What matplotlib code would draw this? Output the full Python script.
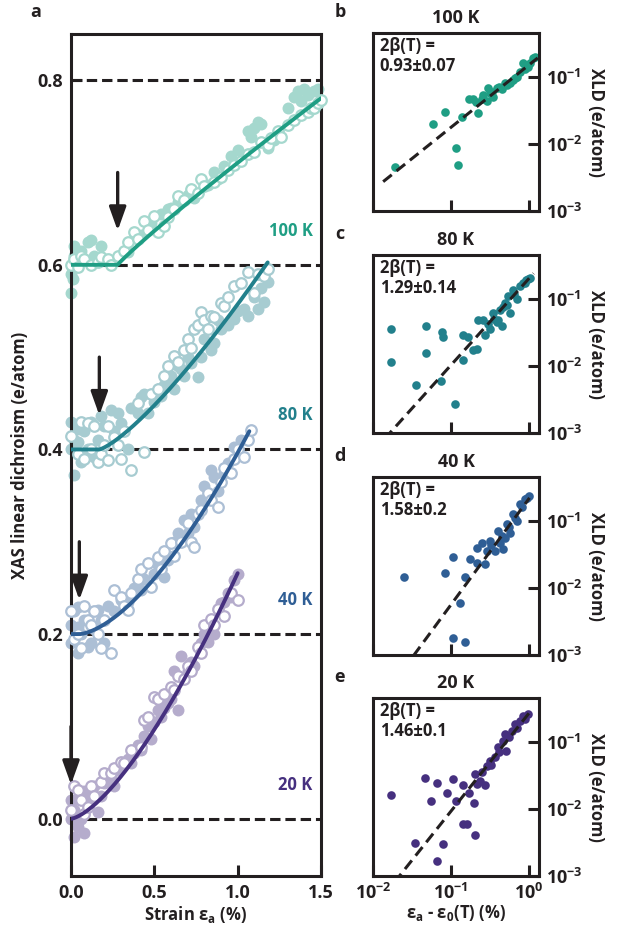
import numpy as np
import matplotlib
matplotlib.use("Agg")
import matplotlib.pyplot as plt
from matplotlib.colors import to_rgb
from matplotlib.ticker import NullLocator

plt.rcParams['font.family'] = ['Open Sans', 'DejaVu Sans']
plt.rcParams['font.weight'] = 'bold'
plt.rcParams['axes.labelweight'] = 'bold'
plt.rcParams['axes.titleweight'] = 'bold'
plt.rcParams['mathtext.fontset'] = 'custom'
plt.rcParams['mathtext.rm'] = 'Open Sans:bold'
plt.rcParams['mathtext.it'] = 'Open Sans:bold'
plt.rcParams['mathtext.bf'] = 'Open Sans:bold'
plt.rcParams['mathtext.default'] = 'regular'

INK = '#231f20'

# ---------------- data ----------------
temps = ['100 K', '80 K', '40 K', '20 K']
offsets = [0.6, 0.4, 0.2, 0.0]
eps0 = [0.28, 0.17, 0.05, 0.0]          # onset strain (arrows)
amp = [0.150, 0.200, 0.213, 0.266]      # fit prefactor
two_beta = [0.93, 1.29, 1.58, 1.46]     # fit exponent
two_beta_err = ['0.07', '0.14', '0.2', '0.1']
strain_max = [1.5, 1.18, 1.07, 1.0]
colors = ['#1f9e84', '#22808c', '#2f5e95', '#46307f']

# strain (%) and XLD (e/atom, offset) -- filled symbols / open symbols
s100_f = [0.0, 0.0, 0.01, 0.02, 0.02, 0.04, 0.06, 0.10, 0.12, 0.14, 0.18, 0.22, 0.34, 0.42, 0.48, 0.54, 0.58, 0.60,
          0.64, 0.70, 0.74, 0.82, 0.86, 0.88, 0.92, 0.96, 1.0, 1.06, 1.08, 1.10, 1.12, 1.14, 1.18, 1.22, 1.30, 1.34,
          1.36, 1.38, 1.40, 1.42, 1.46, 1.48]
x100_f = [0.570, 0.590, 0.585, 0.610, 0.620, 0.603, 0.615, 0.625, 0.627, 0.610, 0.620, 0.605, 0.614, 0.632, 0.645,
          0.655, 0.660, 0.662, 0.668, 0.676, 0.672, 0.686, 0.700, 0.693, 0.707, 0.718, 0.724, 0.745, 0.738, 0.748,
          0.755, 0.752, 0.726, 0.735, 0.770, 0.782, 0.788, 0.777, 0.790, 0.784, 0.788, 0.790]
s100_o = [0.0, 0.02, 0.04, 0.06, 0.08, 0.12, 0.16, 0.18, 0.22, 0.24, 0.28, 0.32, 0.34, 0.38, 0.40, 0.44, 0.46, 0.50,
          0.52, 0.56, 0.58, 0.62, 0.64, 0.68, 0.72, 0.76, 0.78, 0.80, 0.86, 0.90, 0.94, 0.98, 1.02, 1.06, 1.10, 1.14,
          1.18, 1.20, 1.24, 1.26, 1.30, 1.34, 1.38, 1.42, 1.44, 1.46, 1.48, 1.50]
x100_o = [0.600, 0.606, 0.598, 0.610, 0.606, 0.600, 0.603, 0.608, 0.606, 0.600, 0.610, 0.615, 0.625, 0.636, 0.628,
          0.647, 0.638, 0.653, 0.636, 0.642, 0.652, 0.660, 0.675, 0.670, 0.682, 0.678, 0.693, 0.685, 0.690, 0.695,
          0.703, 0.708, 0.712, 0.720, 0.722, 0.733, 0.730, 0.737, 0.745, 0.738, 0.751, 0.757, 0.762, 0.766, 0.770,
          0.770, 0.775, 0.778]

s80_f = [0.0, 0.0, 0.02, 0.02, 0.04, 0.04, 0.06, 0.08, 0.10, 0.12, 0.14, 0.16, 0.18, 0.20, 0.24, 0.26, 0.28, 0.30,
         0.34, 0.36, 0.40, 0.42, 0.44, 0.46, 0.50, 0.52, 0.54, 0.56, 0.58, 0.60, 0.62, 0.64, 0.66, 0.68, 0.70, 0.72,
         0.76, 0.78, 0.80, 0.84, 0.86, 0.88, 0.90, 0.94, 0.98, 1.00, 1.04, 1.06, 1.10, 1.12, 1.14, 1.16, 1.18]
x80_f = [0.400, 0.430, 0.372, 0.410, 0.422, 0.408, 0.386, 0.420, 0.400, 0.430, 0.392, 0.410, 0.436, 0.425, 0.443,
         0.420, 0.440, 0.429, 0.400, 0.445, 0.440, 0.457, 0.460, 0.440, 0.451, 0.465, 0.458, 0.470, 0.473, 0.480,
         0.465, 0.490, 0.487, 0.480, 0.500, 0.494, 0.479, 0.500, 0.520, 0.508, 0.515, 0.540, 0.530, 0.535, 0.541,
         0.550, 0.552, 0.545, 0.565, 0.552, 0.575, 0.560, 0.581]
s80_o = [0.0, 0.04, 0.06, 0.08, 0.10, 0.12, 0.14, 0.16, 0.18, 0.20, 0.22, 0.22, 0.26, 0.28, 0.30, 0.32, 0.36, 0.40,
         0.44, 0.48, 0.52, 0.56, 0.58, 0.62, 0.64, 0.68, 0.70, 0.72, 0.74, 0.76, 0.78, 0.80, 0.82, 0.84, 0.86, 0.90,
         0.92, 0.94, 0.98, 1.02, 1.06, 1.10, 1.12, 1.16, 1.18]
x80_o = [0.415, 0.395, 0.430, 0.390, 0.429, 0.400, 0.425, 0.386, 0.395, 0.405, 0.425, 0.389, 0.414, 0.405, 0.390,
         0.420, 0.378, 0.450, 0.397, 0.460, 0.465, 0.480, 0.490, 0.501, 0.495, 0.508, 0.520, 0.510, 0.530, 0.535,
         0.549, 0.540, 0.530, 0.545, 0.544, 0.559, 0.555, 0.565, 0.577, 0.580, 0.592, 0.570, 0.590, 0.588, 0.595]

s40_f = [0.0, 0.0, 0.02, 0.04, 0.04, 0.04, 0.06, 0.08, 0.10, 0.12, 0.14, 0.16, 0.18, 0.20, 0.22, 0.26, 0.30, 0.34,
         0.38, 0.42, 0.44, 0.50, 0.52, 0.56, 0.58, 0.62, 0.64, 0.68, 0.70, 0.72, 0.74, 0.78, 0.80, 0.84, 0.86, 0.88,
         0.92, 0.94, 0.98, 1.00, 1.02]
x40_f = [0.210, 0.190, 0.225, 0.229, 0.208, 0.179, 0.200, 0.215, 0.186, 0.190, 0.205, 0.226, 0.215, 0.190, 0.230,
         0.225, 0.237, 0.235, 0.250, 0.248, 0.260, 0.265, 0.275, 0.262, 0.280, 0.300, 0.310, 0.324, 0.310, 0.330,
         0.316, 0.345, 0.360, 0.378, 0.370, 0.355, 0.375, 0.385, 0.403, 0.395, 0.410]
s40_o = [0.0, 0.02, 0.04, 0.06, 0.08, 0.10, 0.12, 0.14, 0.16, 0.18, 0.20, 0.24, 0.26, 0.30, 0.32, 0.34, 0.36, 0.40,
         0.42, 0.46, 0.48, 0.52, 0.54, 0.56, 0.60, 0.62, 0.66, 0.70, 0.72, 0.74, 0.76, 0.78, 0.82, 0.84, 0.88, 0.90,
         0.92, 0.96, 0.98, 1.00, 1.04, 1.06, 1.08]
x40_o = [0.225, 0.195, 0.200, 0.185, 0.230, 0.215, 0.210, 0.225, 0.200, 0.185, 0.215, 0.179, 0.248, 0.240, 0.230,
         0.226, 0.245, 0.260, 0.270, 0.277, 0.251, 0.283, 0.270, 0.290, 0.299, 0.285, 0.300, 0.320, 0.300, 0.294,
         0.330, 0.334, 0.353, 0.345, 0.338, 0.365, 0.380, 0.375, 0.390, 0.400, 0.392, 0.410, 0.421]

s20_f = [0.0, 0.0, 0.02, 0.02, 0.04, 0.04, 0.06, 0.08, 0.08, 0.10, 0.12, 0.14, 0.16, 0.18, 0.20, 0.22, 0.24, 0.26,
         0.28, 0.30, 0.34, 0.36, 0.38, 0.40, 0.42, 0.44, 0.46, 0.48, 0.50, 0.52, 0.54, 0.56, 0.58, 0.60, 0.62, 0.64,
         0.66, 0.70, 0.72, 0.74, 0.78, 0.80, 0.82, 0.84, 0.86, 0.90, 0.92, 0.94, 0.96, 0.98, 1.0]
x20_f = [0.000, 0.020, 0.010, -0.020, 0.021, -0.009, 0.000, 0.030, -0.015, 0.028, 0.020, 0.035, 0.007, 0.025,
         0.039, 0.040, 0.045, 0.035, 0.053, 0.055, 0.065, 0.060, 0.071, 0.080, 0.075, 0.090, 0.100, 0.086, 0.105,
         0.118, 0.110, 0.120, 0.125, 0.130, 0.160, 0.118, 0.176, 0.160, 0.170, 0.165, 0.190, 0.200, 0.191, 0.210,
         0.200, 0.234, 0.235, 0.245, 0.240, 0.259, 0.265]
s20_o = [0.0, 0.02, 0.04, 0.06, 0.08, 0.10, 0.12, 0.14, 0.18, 0.20, 0.24, 0.26, 0.30, 0.32, 0.36, 0.42, 0.44, 0.46,
         0.50, 0.52, 0.56, 0.60, 0.62, 0.64, 0.68, 0.70, 0.72, 0.76, 0.78, 0.80, 0.84, 0.86, 0.88, 0.92, 0.96, 1.0]
x20_o = [0.010, 0.035, 0.031, 0.020, 0.005, 0.013, 0.035, 0.025, 0.040, 0.050, 0.050, 0.055, 0.061, 0.060, 0.075,
         0.078, 0.107, 0.110, 0.132, 0.130, 0.135, 0.143, 0.140, 0.155, 0.151, 0.165, 0.160, 0.186, 0.180, 0.210,
         0.216, 0.210, 0.227, 0.220, 0.245, 0.237]

# strain above onset (%) vs XLD (e/atom), log-log panels
d100 = [0.019, 0.059, 0.083, 0.138, 0.115, 0.123, 0.17, 0.19, 0.21, 0.22, 0.25, 0.26, 0.29, 0.30, 0.32, 0.34, 0.35,
        0.39, 0.42, 0.45, 0.49, 0.53, 0.58, 0.62, 0.66, 0.71, 0.76, 0.83, 0.90, 0.98, 1.05, 1.12, 1.20]
v100 = [0.0046, 0.020, 0.030, 0.025, 0.0087, 0.0049, 0.046, 0.046, 0.042, 0.029, 0.047, 0.054, 0.043, 0.069, 0.058,
        0.060, 0.050, 0.069, 0.070, 0.065, 0.081, 0.075, 0.081, 0.091, 0.095, 0.100, 0.117, 0.162, 0.130, 0.141,
        0.160, 0.19, 0.20]
d80 = [0.017, 0.017, 0.048, 0.048, 0.036, 0.076, 0.079, 0.074, 0.112, 0.141, 0.141, 0.166, 0.19, 0.214, 0.224, 0.257,
       0.275, 0.30, 0.316, 0.347, 0.36, 0.389, 0.40, 0.427, 0.447, 0.46, 0.49, 0.52, 0.54, 0.575, 0.617, 0.65, 0.71,
       0.76, 0.83, 0.88, 0.93, 0.98, 1.02]
v80 = [0.035, 0.0115, 0.039, 0.0155, 0.0052, 0.032, 0.027, 0.006, 0.0027, 0.0123, 0.029, 0.027, 0.0174, 0.0178,
       0.048, 0.049, 0.029, 0.042, 0.035, 0.062, 0.050, 0.045, 0.049, 0.069, 0.040, 0.075, 0.087, 0.080, 0.110,
       0.062, 0.135, 0.120, 0.098, 0.155, 0.174, 0.170, 0.19, 0.20, 0.204]
d40 = [0.025, 0.107, 0.083, 0.151, 0.132, 0.107, 0.151, 0.174, 0.214, 0.214, 0.251, 0.275, 0.288, 0.316, 0.33,
       0.363, 0.40, 0.427, 0.45, 0.468, 0.49, 0.525, 0.55, 0.575, 0.617, 0.66, 0.708, 0.76, 0.82, 0.89, 0.95, 1.0]
v40 = [0.0145, 0.029, 0.0166, 0.0145, 0.006, 0.00178, 0.00155, 0.027, 0.040, 0.0234, 0.046, 0.0229, 0.0355, 0.050,
       0.043, 0.0355, 0.071, 0.047, 0.060, 0.038, 0.056, 0.091, 0.080, 0.065, 0.126, 0.110, 0.100, 0.178, 0.160,
       0.214, 0.220, 0.234]
d20 = [0.017, 0.047, 0.066, 0.055, 0.089, 0.105, 0.035, 0.079, 0.066, 0.115, 0.141, 0.162, 0.204, 0.195, 0.145,
       0.17, 0.204, 0.214, 0.234, 0.25, 0.275, 0.288, 0.316, 0.33, 0.363, 0.407, 0.42, 0.468, 0.513, 0.49, 0.55,
       0.60, 0.66, 0.70, 0.76, 0.85, 0.90, 0.98]
v20 = [0.0162, 0.029, 0.0245, 0.0129, 0.0174, 0.0275, 0.0031, 0.00295, 0.00166, 0.0132, 0.0059, 0.0059, 0.0041,
       0.0123, 0.0224, 0.017, 0.033, 0.0234, 0.026, 0.035, 0.0224, 0.0437, 0.0525, 0.045, 0.059, 0.083, 0.070,
       0.102, 0.074, 0.129, 0.120, 0.145, 0.182, 0.160, 0.204, 0.245, 0.220, 0.257]
fit_lo = [0.0135, 0.01, 0.01, 0.01]
fit_hi = [1.30, 1.15, 1.02, 1.0]

filled = [(s100_f, x100_f), (s80_f, x80_f), (s40_f, x40_f), (s20_f, x20_f)]
opened = [(s100_o, x100_o), (s80_o, x80_o), (s40_o, x40_o), (s20_o, x20_o)]
loglog = [(d100, v100), (d80, v80), (d40, v40), (d20, v20)]


def lighten(c, f=0.6):
    r = np.array(to_rgb(c))
    return tuple(r + (1 - r) * f)


def style_spines(ax):
    for sp in ax.spines.values():
        sp.set_linewidth(2.2)
        sp.set_color(INK)


W, H = 624, 934
fig = plt.figure(figsize=(W / 100, H / 100), dpi=100)


def px_axes(x0, y0, x1, y1):
    return fig.add_axes([x0 / W, 1 - y1 / H, (x1 - x0) / W, (y1 - y0) / H])


# ---------------- panel a ----------------
ax = px_axes(71, 34, 321, 876)
style_spines(ax)
ax.set_xlim(0, 1.5)
ax.set_ylim(-0.062, 0.85)
for off in [0.0, 0.2, 0.4, 0.6, 0.8]:
    ax.plot([0, 1.5], [off, off], color=INK, lw=2.2, dashes=(3.4, 1.6), zorder=1, solid_capstyle='butt')

for i in range(4):
    c = colors[i]
    lc = lighten(c)
    sf, xf = filled[i]
    so, xo = opened[i]
    ax.plot(sf, xf, 'o', ms=8.6, mfc=lc, mec=lc, mew=0, zorder=2, clip_on=False)
    ax.plot(so, xo, 'o', ms=7.6, mfc='white', mec=lc, mew=1.6, zorder=3, clip_on=False)
    s = np.linspace(0, strain_max[i], 300)
    fit = offsets[i] + amp[i] * np.clip(s - eps0[i], 0, None) ** two_beta[i]
    ax.plot(s, fit, color=c, lw=2.8, zorder=4, solid_capstyle='round')
    ax.annotate('', xy=(eps0[i], offsets[i] + 0.037), xytext=(eps0[i], offsets[i] + 0.1),
                arrowprops=dict(arrowstyle='-|>,head_length=0.95,head_width=0.34', lw=2.4,
                                color=INK, mutation_scale=15, shrinkA=0, shrinkB=0),
                zorder=5, annotation_clip=False)
    ax.text(1.45, offsets[i] + 0.037, temps[i], color=c, fontsize=12, ha='right', va='center',
            fontweight='bold')

ax.set_xticks([0, 0.5, 1.0, 1.5])
ax.set_xticklabels(['0.0', '0.5', '1.0', '1.5'])
ax.set_yticks([0.0, 0.2, 0.4, 0.6, 0.8])
ax.set_yticklabels(['0.0', '0.2', '0.4', '0.6', '0.8'])
ax.tick_params(direction='in', length=8, width=2.2, color=INK, labelsize=13, labelcolor=INK, pad=6)
ax.set_xlabel('Strain ε$_\\mathregular{a}$ (%)', fontsize=12, color=INK, labelpad=1)
ax.set_ylabel('XAS linear dichroism (e/atom)', fontsize=12, color=INK, labelpad=6)
fig.text(36 / W, 1 - 12 / H, 'a', fontsize=13, fontweight='bold', color=INK, ha='center', va='center')

# ---------------- panels b-e ----------------
tops = [33, 255, 477, 698]
letters = ['b', 'c', 'd', 'e']
for i in range(4):
    t = tops[i]
    bx = px_axes(373, t, 539, t + 178)
    style_spines(bx)
    bx.set_xscale('log')
    bx.set_yscale('log')
    bx.set_xlim(0.01, 1.35)
    bx.set_ylim(1e-3, 0.45)
    d, v = loglog[i]
    bx.plot(d, v, 'o', ms=6.2, color=colors[i], mew=0, zorder=2)
    xs = np.logspace(np.log10(fit_lo[i]), np.log10(fit_hi[i]), 100)
    bx.plot(xs, amp[i] * xs ** two_beta[i], color=INK, lw=2.2, dashes=(3.6, 2.0), zorder=3)
    bx.xaxis.set_minor_locator(NullLocator())
    bx.yaxis.set_minor_locator(NullLocator())
    bx.set_xticks([1e-2, 1e-1, 1e0])
    bx.set_yticks([1e-3, 1e-2, 1e-1])
    bx.yaxis.tick_right()
    bx.set_yticklabels([r'$10^{-3}$', r'$10^{-2}$', r'$10^{-1}$'])
    bx.yaxis.set_label_position('right')
    bx.set_ylabel('XLD (e/atom)', rotation=270, fontsize=12, color=INK, labelpad=16)
    if i == 3:
        bx.set_xticklabels([r'$10^{-2}$', r'$10^{-1}$', r'$10^{0}$'])
        bx.set_xlabel('ε$_\\mathregular{a}$ - ε$_\\mathregular{0}$(T) (%)', fontsize=12, color=INK, labelpad=0)
    else:
        bx.set_xticklabels([])
    bx.tick_params(direction='in', length=8, width=2.2, color=INK, labelsize=13, labelcolor=INK, pad=5)
    bx.set_title(temps[i], fontsize=13, color=INK, fontweight='bold', pad=7)
    bx.text(0.04, 0.975, '2β(T) =\n%.2f±%s' % (two_beta[i], two_beta_err[i]), transform=bx.transAxes,
            fontsize=12, color=INK, ha='left', va='top', linespacing=1.1)
    fig.text(340 / W, 1 - (t - 21) / H, letters[i], fontsize=13, fontweight='bold', color=INK,
             ha='center', va='center')

fig.savefig('out.png', dpi=100)
